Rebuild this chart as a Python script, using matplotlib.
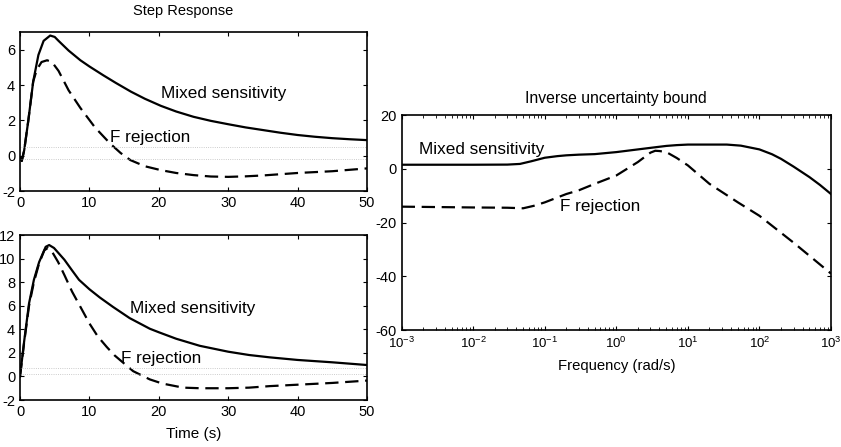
import numpy as np
import matplotlib.pyplot as plt

plt.rcParams['font.family'] = ['Liberation Sans', 'DejaVu Sans']
plt.rcParams['axes.unicode_minus'] = False

# step response, top panel
t_top = [0, 0.25, 0.6, 1.2, 1.9, 2.65, 3.4, 4.35, 5, 5.55, 7, 8.7, 10, 12, 13.8, 16, 18,
         20.3, 22.5, 25, 27.5, 30, 32.5, 35, 37.5, 40, 42.5, 45, 47.5, 50]
mixed_top = [-0.1, -0.3, 0.3, 2.0, 4.2, 5.7, 6.5, 6.8, 6.72, 6.5, 5.95, 5.4, 5.05, 4.55,
             4.12, 3.62, 3.22, 2.82, 2.5, 2.2, 1.97, 1.78, 1.6, 1.45, 1.3, 1.17, 1.07, 0.99,
             0.93, 0.88]
t_top_f = [0, 0.25, 0.6, 1.2, 1.9, 2.4, 3.1, 3.9, 4.6, 5.55, 7, 8.7, 10.8, 13, 14.5,
           15.9, 18, 20.3, 22.5, 25, 27.5, 30, 32.5, 35, 37.5, 40, 42.5, 45, 47.5, 50]
frej_top = [-0.1, -0.3, 0.3, 2.0, 4.2, 4.85, 5.3, 5.4, 5.3, 4.8, 3.7, 2.7, 1.6, 0.68,
            0.15, -0.25, -0.6, -0.82, -0.98, -1.1, -1.18, -1.2, -1.17, -1.12, -1.05, -0.98,
            -0.93, -0.88, -0.8, -0.72]

# step response, bottom panel
t_bot = [0, 0.6, 1.3, 2.0, 2.75, 3.7, 4.2, 4.9, 5.5, 6.4, 7.5, 8.5, 10, 11.5, 13.4, 15.8,
         18.7, 20, 22.5, 25.9, 30, 33, 36, 40, 45, 50]
mixed_bot = [0, 3.0, 6.2, 8.2, 9.7, 11.0, 11.15, 10.9, 10.5, 9.9, 9.0, 8.2, 7.4, 6.7,
             5.9, 4.95, 4.05, 3.75, 3.2, 2.6, 2.1, 1.82, 1.62, 1.4, 1.2, 0.97]
t_bot_f = [0, 0.6, 1.3, 2.0, 2.75, 3.5, 4.0, 4.6, 5.5, 6.4, 7.5, 8.8, 10, 11.2, 12.5,
           13.6, 15.1, 16.3, 18.7, 20.5, 23.5, 26, 30, 33, 36, 40, 45, 50]
frej_bot = [0, 2.9, 6.0, 8.0, 9.6, 10.7, 10.9, 10.6, 9.7, 8.6, 7.2, 5.8, 4.5, 3.4, 2.5,
            1.8, 1.05, 0.45, -0.25, -0.6, -0.95, -1.0, -1.0, -0.95, -0.82, -0.7, -0.55,
            -0.35]

# inverse uncertainty bound (dB)
w_mixed = [1e-3, 1e-2, 0.03, 0.045, 0.065, 0.1, 0.15, 0.2, 0.3, 0.5, 1, 2, 3.5, 5, 7,
           10, 35, 55, 100, 150, 200, 300, 500, 700, 1000]
mag_mixed = [1.5, 1.5, 1.55, 1.8, 2.8, 4.1, 4.7, 5.0, 5.25, 5.45, 6.2, 7.2, 8.0, 8.5,
             8.8, 9.0, 9.0, 8.6, 7.2, 5.4, 3.7, 0.8, -3.1, -6.0, -9.4]
w_frej = [1e-3, 1e-2, 0.03, 0.05, 0.07, 0.1, 0.2, 0.3, 0.5, 1, 2, 3, 3.5, 4, 5, 7, 10,
          20, 50, 100, 300, 1000]
mag_frej = [-14.1, -14.4, -14.5, -14.7, -13.8, -12.5, -9.4, -8.0, -5.6, -2.5, 2.5, 6.0,
            6.7, 6.6, 6.2, 4.0, 1.25, -5.6, -12.5, -17.5, -27.5, -39.0]

top_bands = [0.5, -0.19]
bot_bands = [0.7, 0.17]

dash = (6, 3)
lw = 1.6
fs_lbl = 12.3
fs_tick = 10.5


def style(ax):
    ax.tick_params(direction='in', top=True, right=True, labelsize=fs_tick, length=3)
    ax.tick_params(which='minor', direction='in', top=True, right=True, length=2)
    for s in ax.spines.values():
        s.set_linewidth(1.2)


fig = plt.figure(figsize=(8.41, 4.47), dpi=100)

ax1 = fig.add_axes([0.0238, 0.5727, 0.4126, 0.3557])
ax1.plot(t_top, mixed_top, color='black', lw=lw)
ax1.plot(t_top_f, frej_top, color='black', lw=lw, dashes=dash)
for b in top_bands:
    ax1.axhline(b, color='#bbbbbb', lw=0.6, ls=':')
ax1.set_xlim(0, 50)
ax1.set_ylim(-2, 7)
ax1.set_xticks(range(0, 51, 10))
ax1.set_yticks([-2, 0, 2, 4, 6])
ax1.text(20.3, 3.5, 'Mixed sensitivity', fontsize=fs_lbl, va='center')
ax1.text(12.9, 1.05, 'F rejection', fontsize=fs_lbl, va='center')
ax1.set_title('Step Response', fontsize=10.5, pad=12, x=0.47)
style(ax1)

ax2 = fig.add_axes([0.0238, 0.1051, 0.4126, 0.3691])
ax2.plot(t_bot, mixed_bot, color='black', lw=lw)
ax2.plot(t_bot_f, frej_bot, color='black', lw=lw, dashes=dash)
for b in bot_bands:
    ax2.axhline(b, color='#bbbbbb', lw=0.6, ls=':')
ax2.set_xlim(0, 50)
ax2.set_ylim(-2, 12)
ax2.set_xticks(range(0, 51, 10))
ax2.set_yticks(range(-2, 13, 2))
ax2.text(15.9, 5.75, 'Mixed sensitivity', fontsize=fs_lbl, va='center')
ax2.text(14.6, 1.5, 'F rejection', fontsize=fs_lbl, va='center')
ax2.set_xlabel('Time (s)', fontsize=11, labelpad=6)
style(ax2)

ax3 = fig.add_axes([0.4776, 0.2617, 0.5105, 0.481])
ax3.semilogx(w_mixed, mag_mixed, color='black', lw=lw)
ax3.semilogx(w_frej, mag_frej, color='black', lw=lw, dashes=dash)
ax3.set_xlim(1e-3, 1e3)
ax3.set_ylim(-60, 20)
ax3.set_yticks([-60, -40, -20, 0, 20])
ax3.text(1.77e-3, 7.25, 'Mixed sensitivity', fontsize=fs_lbl, va='center')
ax3.text(0.163, -13.9, 'F rejection', fontsize=fs_lbl, va='center')
ax3.set_title('Inverse uncertainty bound', fontsize=11.3, pad=9)
ax3.set_xlabel('Frequency (rad/s)', fontsize=10.7, labelpad=6)
style(ax3)
ax3.tick_params(axis='x', labelsize=9.5, pad=4)

fig.savefig('out.png', dpi=100)
